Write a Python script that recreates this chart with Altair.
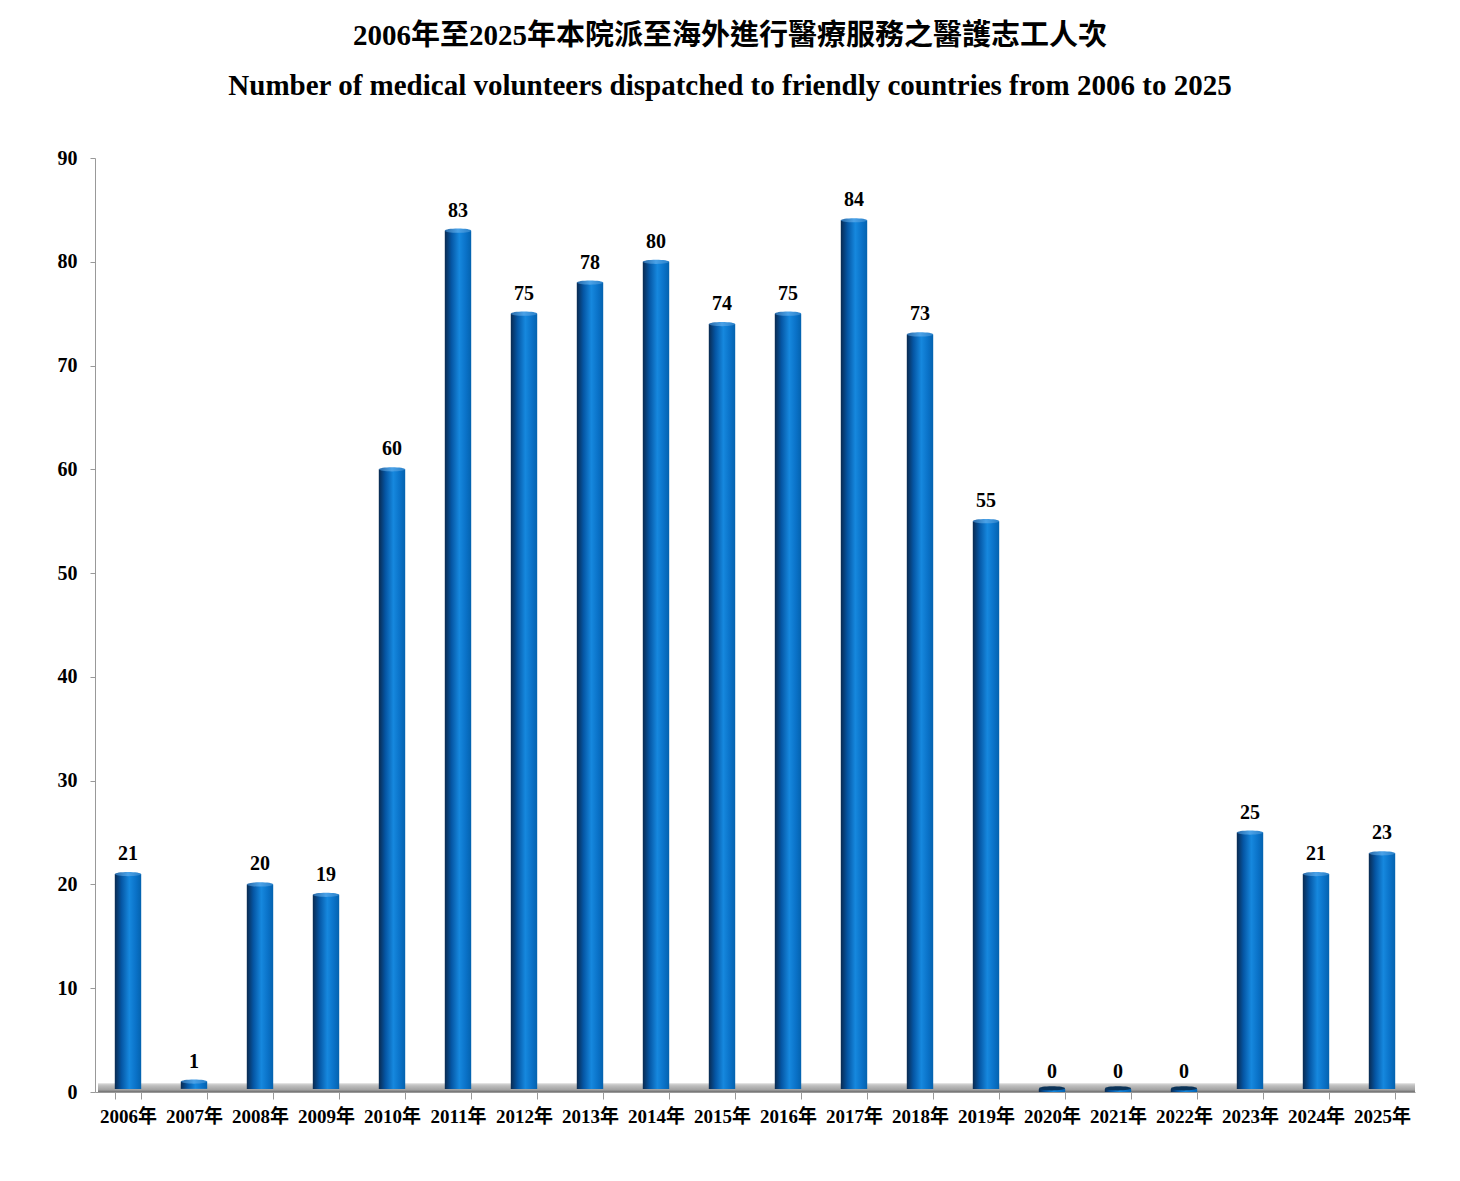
import altair as alt
import pandas as pd

years = ["2006年", "2007年", "2008年", "2009年", "2010年", "2011年", "2012年",
         "2013年", "2014年", "2015年", "2016年", "2017年", "2018年", "2019年",
         "2020年", "2021年", "2022年", "2023年", "2024年", "2025年"]
values = [21, 1, 20, 19, 60, 83, 75, 78, 80, 74, 75, 84, 73, 55, 0, 0, 0, 25, 21, 23]
y_ticks = [0, 10, 20, 30, 40, 50, 60, 70, 80, 90]
title_lines = ["2006年至2025年本院派至海外進行醫療服務之醫護志工人次",
               "Number of medical volunteers dispatched to friendly countries from 2006 to 2025"]

df = pd.DataFrame({"year": years, "value": values})

FONT = "Liberation Serif, Noto Sans CJK TC"
W, H = 1320, 934

bar_grad = alt.Gradient(
    gradient="linear", x1=0, x2=1, y1=0, y2=0,
    stops=[alt.GradientStop(offset=0, color="#0a2a50"),
           alt.GradientStop(offset=0.25, color="#0556a4"),
           alt.GradientStop(offset=0.55, color="#1688de"),
           alt.GradientStop(offset=0.8, color="#0a72c8"),
           alt.GradientStop(offset=1, color="#0462ae")])
cap_grad = alt.Gradient(
    gradient="linear", x1=0, x2=1, y1=0, y2=0,
    stops=[alt.GradientStop(offset=0, color="#2a6aa8"),
           alt.GradientStop(offset=0.5, color="#4aa2e8"),
           alt.GradientStop(offset=1, color="#2a80c8")])
floor_grad = alt.Gradient(
    gradient="linear", x1=0, x2=0, y1=0, y2=1,
    stops=[alt.GradientStop(offset=0, color="#dcdcdc"),
           alt.GradientStop(offset=0.3, color="#bdbdbd"),
           alt.GradientStop(offset=0.75, color="#a2a2a2"),
           alt.GradientStop(offset=1, color="#6e6e6e")])

x_enc = alt.X("year:N", sort=None, scale=alt.Scale(paddingInner=0.6, paddingOuter=0.3),
              axis=alt.Axis(title=None, labelAngle=0, tickBand="extent", tickSize=7,
                            labelPadding=8, labelFont=FONT, labelFontSize=19,
                            labelFontWeight="bold", labelColor="black",
                            domainColor="#999999", tickColor="#999999"))
y_scale = alt.Scale(domain=[0, 90], nice=False)
y_enc = alt.Y("value:Q", scale=y_scale,
              axis=alt.Axis(title=None, values=y_ticks, grid=False, tickSize=5,
                            labelPadding=13, labelFont=FONT, labelFontSize=20,
                            labelFontWeight="bold", labelColor="black",
                            domainColor="#999999", tickColor="#999999"))

base = alt.Chart(df)

floor = alt.Chart(pd.DataFrame({"a": [0]})).mark_rect(fill=floor_grad).encode(
    x=alt.value(3), x2=alt.value(W),
    y=alt.datum(0.85, scale=y_scale), y2=alt.datum(0))

bars = base.mark_bar(fill=bar_grad).encode(x=x_enc, y=y_enc, y2=alt.datum(0.3))

cap_shape = "M -1 0 A 1 0.16 0 1 0 1 0 A 1 0.16 0 1 0 -1 0 Z"
caps = base.transform_filter("datum.value > 0").mark_point(
    shape=cap_shape, size=690, filled=True, fill=cap_grad, opacity=1, strokeWidth=0
).encode(x=alt.X("year:N", sort=None), y="value:Q")
zero_caps = base.transform_filter("datum.value == 0").mark_point(
    shape=cap_shape, size=690, filled=True, fill="#0b3358", opacity=1, strokeWidth=0
).encode(x=alt.X("year:N", sort=None), y=alt.datum(0.35))

labels = base.mark_text(baseline="alphabetic", dy=-14, font=FONT, fontSize=20,
                        fontWeight="bold", color="black").encode(
    x=alt.X("year:N", sort=None), y="value:Q", text="value:Q")

chart = alt.layer(floor, bars, caps, zero_caps, labels).properties(
    width=W, height=H,
    title=alt.TitleParams(text=title_lines, font=FONT, fontSize=29, fontWeight="bold",
                          color="black", lineHeight=50, anchor="middle", offset=47, dx=-25),
    autosize=alt.AutoSizeParams(type="none"),
    padding={"left": 87, "top": 150, "right": 37, "bottom": 80},
).configure(background="white").configure_view(stroke=None, strokeWidth=0)

chart.save("out.html", embed_options={"renderer": "svg", "actions": False})
